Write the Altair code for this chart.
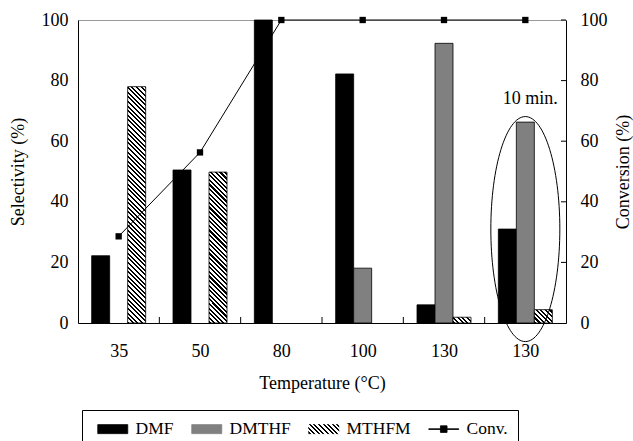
import json
import altair as alt
import pandas as pd

# ---------------- data ----------------
categories = ["35", "50", "80", "100", "130", "130"]
series = ["DMF", "DMTHF", "MTHFM"]
dmf = [22.2, 50.5, 100.0, 82.2, 6.0, 31.0]
dmthf = [0.0, 0.0, 0.0, 18.1, 92.3, 66.3]
mthfm = [78.0, 49.8, 0.0, 0.0, 1.9, 4.4]
conv = [28.6, 56.3, 100.0, 100.0, 100.0, 100.0]
y_ticks = [0, 20, 40, 60, 80, 100]
note_label = "10 min."
note_xy = [5.56, 74.0]      # annotation position (group units, %)
ellipse_xy = [5.50, 31.0]   # ellipse centre around the 10-min group

# ---------------- layout / style ----------------
FONT = "Liberation Serif, Times New Roman, DejaVu Serif, serif"
FS = 18
LFS = 17.5
W, H = 488, 303
BW = 18  # bar width in px
unit = W / len(categories)
bwu = BW / unit


def hatch(w, h, period=4.6, duty=0.45):
    L = w + h
    stops = []
    s = 0.0
    while s < L:
        a = s / L
        b = min((s + duty * period) / L, 1.0)
        c = min((s + period) / L, 1.0)
        stops += [
            {"offset": round(a, 5), "color": "black"},
            {"offset": round(b, 5), "color": "black"},
            {"offset": round(b, 5), "color": "white"},
            {"offset": round(c, 5), "color": "white"},
        ]
        s += period
    k = L / (w * w + h * h)
    return {"gradient": "linear", "x1": 0, "y1": 1,
            "x2": round(k * w, 6), "y2": round(1 - k * h, 6), "stops": stops}


rows = []
for i, cat in enumerate(categories):
    for j, (s, vals) in enumerate(zip(series, [dmf, dmthf, mthfm])):
        v = vals[i]
        if v <= 0:
            continue
        x0 = i + 0.5 + (j - 1) * bwu - bwu / 2
        rows.append({"idx": i, "cat": cat, "series": s, "value": v,
                     "x0": x0, "x1": x0 + bwu})
bars_df = pd.DataFrame(rows)

x_scale = alt.Scale(domain=[0, len(categories)], nice=False, zero=False)
y_scale = alt.Scale(domain=[0, 100], nice=False)

legend_grad = hatch(30, 9)
color_scale = alt.Scale(
    domain=series + ["Conv."],
    range=["black", "#808080", alt.ExprRef(json.dumps(legend_grad)), "black"],
)

rect_path = "M-2.5,-0.75H2.5V0.75H-2.5Z"
conv_path = "M-2.5,-0.05H2.5V0.05H-2.5Z M-0.55,-0.55H0.55V0.55H-0.55Z"
legend_def = alt.Legend(
    title=None, orient="none", legendX=4, legendY=390,
    direction="horizontal", columns=4,
    symbolType=alt.ExprRef(f"datum.label == 'Conv.' ? '{conv_path}' : '{rect_path}'"),
    symbolSize=144, symbolStrokeColor="black", symbolStrokeWidth=0.8,
    symbolOffset=12, labelOffset=14, columnPadding=12, padding=10,
    labelFont=FONT, labelFontSize=LFS, labelColor="black",
    strokeColor="black", fillColor="white",
)

label_expr = "[" + ",".join(f"'{c}'" for c in categories) + "][floor(datum.value)]"
x_axis = alt.Axis(values=[i + 0.5 for i in range(len(categories))],
                  labelExpr=label_expr, ticks=False, grid=False,
                  title="Temperature (°C)", labelPadding=19, titlePadding=14)
y_left = alt.Axis(values=y_ticks, ticks=False, grid=False,
                  title="Selectivity (%)", labelPadding=10, titlePadding=14)
y_right = alt.Axis(values=y_ticks, ticks=False, grid=False, orient="right",
                   title="Conversion (%)", labelPadding=14, titlePadding=25,
                   titleAngle=270)

solid = alt.Chart(bars_df).transform_filter("datum.series != 'MTHFM'").mark_bar(
    stroke="black", strokeWidth=0.8).encode(
    x=alt.X("x0:Q", scale=x_scale, axis=x_axis),
    x2="x1",
    y=alt.Y("value:Q", scale=y_scale, axis=y_left),
    y2=alt.datum(0),
    color=alt.Color("series:N", scale=color_scale, legend=legend_def),
)

hatched_layers = []
for r in rows:
    if r["series"] != "MTHFM":
        continue
    hgt = r["value"] * H / 100.0
    hatched_layers.append(
        alt.Chart(pd.DataFrame([r])).mark_bar(
            stroke="black", strokeWidth=0.8, fill=hatch(BW, hgt)).encode(
            x=alt.X("x0:Q", scale=x_scale),
            x2="x1",
            y=alt.Y("value:Q", scale=y_scale),
            y2=alt.datum(0),
        )
    )

ticks_df = pd.DataFrame({"b": list(range(1, len(categories)))})
x_ticks = alt.Chart(ticks_df).mark_rule(color="black", strokeWidth=1).encode(
    x=alt.X("b:Q", scale=x_scale),
    y=alt.value(H), y2=alt.value(H - 6),
)

ell = 34.5 / 112.5
ellipse_path = f"M{-ell},0A{ell},1 0 1 0 {ell},0A{ell},1 0 1 0 {-ell},0Z"
ell_df = pd.DataFrame({"x": [ellipse_xy[0]], "y": [ellipse_xy[1]]})
ellipse = alt.Chart(ell_df).mark_point(
    shape=ellipse_path, size=225 ** 2, filled=False, color="black",
    strokeWidth=1, opacity=1).encode(
    x=alt.X("x:Q", scale=x_scale),
    y=alt.Y("y:Q", scale=y_scale),
)

note_df = pd.DataFrame({"x": [note_xy[0]], "y": [note_xy[1]], "t": [note_label]})
note = alt.Chart(note_df).mark_text(font=FONT, fontSize=FS, color="black",
                                    align="center", baseline="middle").encode(
    x=alt.X("x:Q", scale=x_scale),
    y=alt.Y("y:Q", scale=y_scale),
    text="t:N",
)

left_group = alt.layer(solid, *hatched_layers, x_ticks, ellipse, note)

conv_df = pd.DataFrame({"x": [i + 0.5 for i in range(len(categories))],
                        "conv": conv, "name": ["Conv."] * len(categories)})
line = alt.Chart(conv_df).mark_line(
    strokeWidth=1,
    point=alt.OverlayMarkDef(shape="square", size=40, filled=True, color="black"),
).encode(
    x=alt.X("x:Q", scale=x_scale),
    y=alt.Y("conv:Q", scale=y_scale, axis=y_right),
    color=alt.Color("name:N", scale=color_scale, legend=legend_def),
)
rt_df = pd.DataFrame({"t": y_ticks[1:]})
r_ticks = alt.Chart(rt_df).mark_rule(color="black", strokeWidth=1).encode(
    y=alt.Y("t:Q", scale=y_scale),
    x=alt.value(W - 5), x2=alt.value(W),
)
right_group = alt.layer(line, r_ticks)

chart = alt.layer(left_group, right_group).resolve_scale(y="independent").properties(
    width=W, height=H,
    autosize=alt.AutoSizeParams(type="none"),
    padding={"left": 78, "top": 20, "right": 633 - 78 - W, "bottom": 441 - 20 - H},
    background="white",
).configure(font=FONT).configure_view(stroke="#9a9a9a", strokeWidth=1).configure_axis(
    labelFont=FONT, titleFont=FONT, labelFontSize=FS, titleFontSize=FS,
    labelColor="black", titleColor="black", titleFontWeight="normal",
    domainColor="black", domainWidth=1,
).configure_legend(labelFont=FONT)

chart.save("out.html", embed_options={"renderer": "svg", "actions": False})
